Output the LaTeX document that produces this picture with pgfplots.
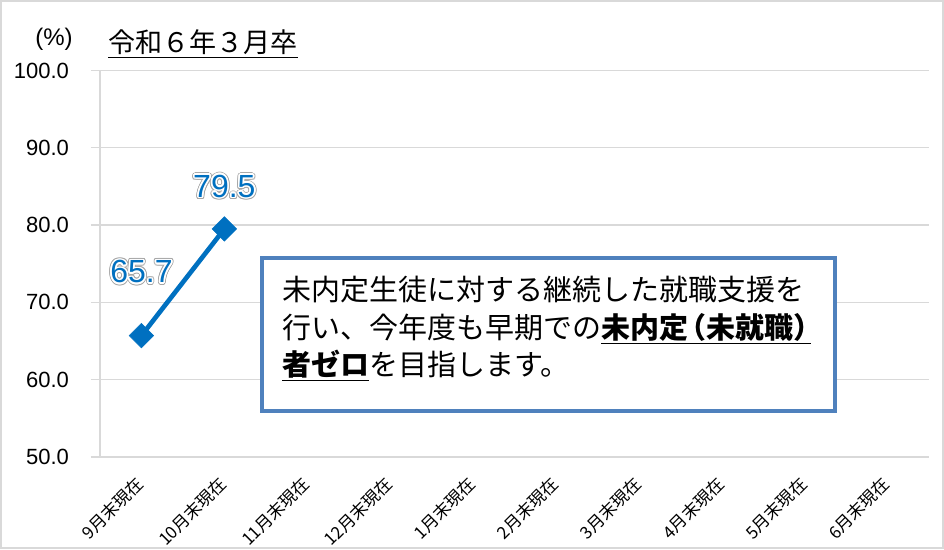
\documentclass[border=0pt]{standalone}
\usepackage{fontspec}
\setmainfont{Liberation Sans}
\newfontfamily\jp{Noto Sans CJK JP}
\usepackage{pgfplots}
\usepackage{pgfplotstable}
\pgfplotsset{compat=1.18}
\usepackage{contour}
\definecolor{lineblue}{HTML}{0070C0}
\definecolor{boxblue}{HTML}{4F81BD}
\definecolor{gridgray}{HTML}{D9D9D9}
\definecolor{halogray}{HTML}{A6A6A6}

\newcommand{\datalabel}[1]{\contourlength{1.9pt}\rlap{\contour{halogray}{\textcolor{halogray}{#1}}}\contourlength{1.2pt}\contour{white}{\textcolor{lineblue}{#1}}}
\newcommand{\lp}{\makebox[0.62em][r]{（}}
\newcommand{\rp}{\makebox[0.62em][l]{）}}

\pgfplotstableread{
x y dy
0 65.7 47
1 79.5 31
}\datatable

\begin{document}
\begin{tikzpicture}
\begin{axis}[
  at={(0pt,0pt)}, anchor=south west,
  scale only axis, width=621.75pt, height=289.9pt,
  xmin=-0.5, xmax=9.5, ymin=50, ymax=100,
  ytick={50,60,...,100},
  xtick={0,...,9},
  xticklabels={9月末現在,10月末現在,11月末現在,12月末現在,1月末現在,2月末現在,3月末現在,4月末現在,5月末現在,6月末現在},
  xticklabel style={font=\jp\fontsize{12.8}{14}\selectfont, xshift=-5pt, yshift=-5pt, rotate=45, anchor=north east, inner sep=1pt},
  axis x line*=bottom, axis y line*=left,
  axis line style={gridgray, line width=1pt, -},
  ymajorgrids, grid style={gridgray, line width=1pt},
  major tick length=6.75pt, tick align=outside,
  xtick style={draw=none},
  ytick style={gridgray, line width=1pt},
  /pgf/number format/assume math mode=true,
  yticklabel={\pgfmathprintnumber[fixed,fixed zerofill,precision=1]{\tick}\hspace*{13pt}},
  yticklabel style={font=\fontsize{16.5}{18}\selectfont, anchor=east},
  clip=false,
]
\addplot[lineblue, line width=3.5pt, mark=square*, mark size=6.5pt,
  mark options={rotate=45, solid, line width=0.4pt},
  visualization depends on={\thisrow{dy} \as \dy},
  nodes near coords={\datalabel{\pgfmathprintnumber[fixed,fixed zerofill,precision=1]{\pgfplotspointmeta}}},
  every node near coord/.append style={anchor=center, yshift=\dy pt, font=\fontsize{24}{28}\selectfont}
] table[x=x,y=y] {\datatable};
\end{axis}
\begin{scope}[shift={(-75pt,342.75pt)}, x=0.75pt, y=-0.75pt]
  \draw[gridgray, line width=1.5pt] (1,1) rectangle (943,548);
  \node[font=\fontsize{18}{20}\selectfont, inner sep=0pt] at (54,39) {(\%)};
  \node[anchor=west, font=\jp\fontsize{20.3}{24}\selectfont, inner sep=0pt] at (108,44) {\underline{令和６年３月卒}};
  \draw[boxblue, line width=3pt, fill=white] (262,258) rectangle (835,411);
  \node[anchor=north west, inner sep=0pt, align=left, font=\jp\fontsize{21.75}{28.1}\selectfont] at (282,276)
    {未内定生徒に対する継続した就職支援を\\
     行い、今年度も早期での\underline{\textbf{未内定\lp 未就職\rp}}\\
     \underline{\textbf{者ゼロ}}を目指します。};
\end{scope}
\pgfresetboundingbox
\useasboundingbox (-75pt,-69pt) rectangle (633pt,342.75pt);
\end{tikzpicture}
\end{document}
